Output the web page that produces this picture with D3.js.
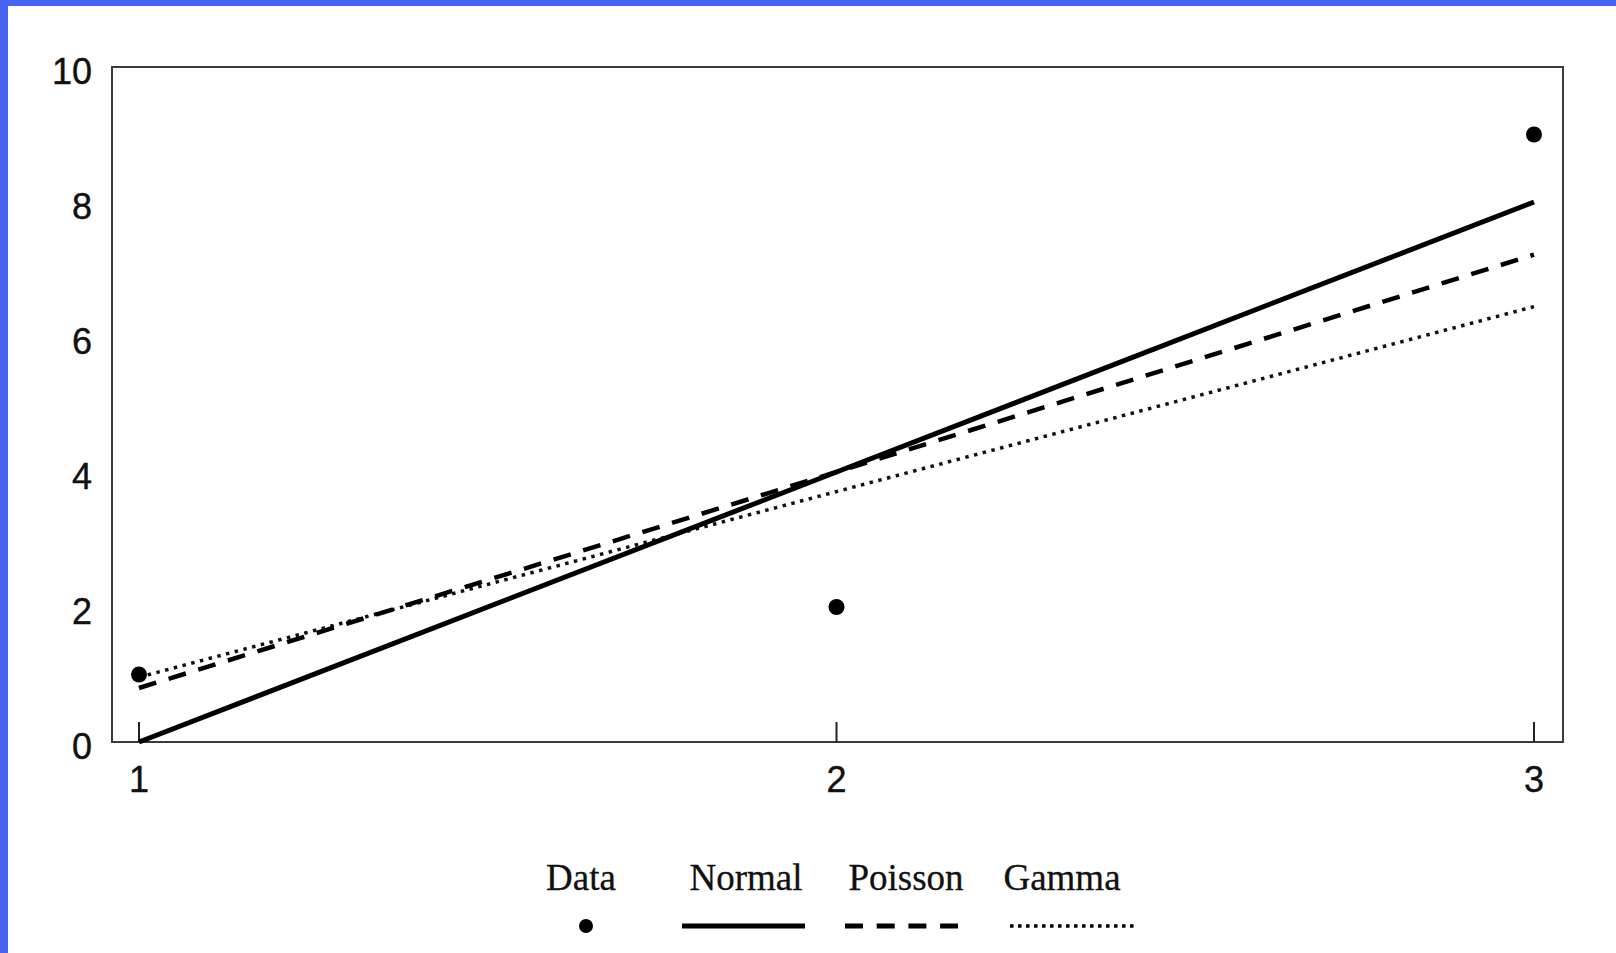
<!DOCTYPE html>
<html>
<head>
<meta charset="utf-8">
<script src="https://cdn.jsdelivr.net/npm/d3@7"></script>
<style>
  html, body { margin: 0; padding: 0; background: #4763ef; }
  svg { display: block; }
</style>
</head>
<body>
<div id="chart"></div>
<script>
// data
const xValues = [1, 2, 3];
const dataValues = [1, 2, 9];
const normalFit = [0, 4, 8];
const poissonFit = [0.8, 4.0, 7.22];
const gammaFit = [0.96, 3.71, 6.45];
const yTicks = [0, 2, 4, 6, 8, 10];
const xTicks = [1, 2, 3];
const legendLabels = ["Data", "Normal", "Poisson", "Gamma"];

const width = 1616, height = 953;

const svg = d3.select("#chart").append("svg")
  .attr("width", width)
  .attr("height", height);

// white page inside the blue edge
svg.append("rect")
  .attr("x", 8).attr("y", 6)
  .attr("width", width - 8).attr("height", height - 6)
  .attr("fill", "#fff");

// scales
const x = d3.scaleLinear().domain([1, 3]).range([139, 1534]);
const y = d3.scaleLinear().domain([0, 10]).range([742, 67]);

const frame = { left: 112, right: 1563, top: 67, bottom: 742 };

// plot frame
svg.append("rect")
  .attr("x", frame.left).attr("y", frame.top)
  .attr("width", frame.right - frame.left)
  .attr("height", frame.bottom - frame.top)
  .attr("fill", "none")
  .attr("stroke", "#3a3a3a")
  .attr("stroke-width", 2);

// x ticks pointing up inside the frame
svg.selectAll(".xtick")
  .data(xTicks)
  .enter().append("line")
  .attr("x1", d => x(d)).attr("x2", d => x(d))
  .attr("y1", frame.bottom).attr("y2", frame.bottom - 20)
  .attr("stroke", "#222").attr("stroke-width", 2);

const tickFont = "'Liberation Sans', Arial, sans-serif";

svg.selectAll(".xlabel")
  .data(xTicks)
  .enter().append("text")
  .attr("x", d => x(d))
  .attr("y", 792)
  .attr("text-anchor", "middle")
  .attr("font-family", tickFont)
  .attr("font-size", 36)
  .attr("fill", "#111")
  .attr("stroke", "#111").attr("stroke-width", 0.4)
  .text(d => d);

svg.selectAll(".ylabel")
  .data(yTicks)
  .enter().append("text")
  .attr("x", 92)
  .attr("y", d => y(d) + 17)
  .attr("text-anchor", "end")
  .attr("font-family", tickFont)
  .attr("font-size", 36)
  .attr("fill", "#111")
  .attr("stroke", "#111").attr("stroke-width", 0.4)
  .text(d => d);

// fitted lines
const line = d3.line()
  .x((d, i) => x(xValues[i]))
  .y(d => y(d));

svg.append("path")
  .datum(gammaFit)
  .attr("d", line)
  .attr("fill", "none")
  .attr("stroke", "#111")
  .attr("stroke-width", 3.5)
  .attr("stroke-dasharray", "3.5,5.5");

svg.append("path")
  .datum(poissonFit)
  .attr("d", line)
  .attr("fill", "none")
  .attr("stroke", "#000")
  .attr("stroke-width", 4.5)
  .attr("stroke-dasharray", "18,13");

svg.append("path")
  .datum(normalFit)
  .attr("d", line)
  .attr("fill", "none")
  .attr("stroke", "#000")
  .attr("stroke-width", 5);

// data points
svg.selectAll(".pt")
  .data(dataValues)
  .enter().append("circle")
  .attr("cx", (d, i) => x(xValues[i]))
  .attr("cy", d => y(d))
  .attr("r", 8)
  .attr("fill", "#000");

// legend
const legendCenters = [581, 746, 906, 1062];
const legendY = 890, markY = 926;

svg.selectAll(".legtext")
  .data(legendLabels)
  .enter().append("text")
  .attr("x", (d, i) => legendCenters[i])
  .attr("y", legendY)
  .attr("text-anchor", "middle")
  .attr("font-family", "'Liberation Serif', 'Times New Roman', serif")
  .attr("font-size", 37)
  .attr("fill", "#111")
  .attr("stroke", "#111").attr("stroke-width", 0.3)
  .text(d => d);

svg.append("circle")
  .attr("cx", 586).attr("cy", markY).attr("r", 7).attr("fill", "#000");

svg.append("line")
  .attr("x1", 682).attr("x2", 805).attr("y1", markY).attr("y2", markY)
  .attr("stroke", "#000").attr("stroke-width", 5);

svg.append("line")
  .attr("x1", 845).attr("x2", 958).attr("y1", markY).attr("y2", markY)
  .attr("stroke", "#000").attr("stroke-width", 5)
  .attr("stroke-dasharray", "18,13.7");

svg.append("line")
  .attr("x1", 1010).attr("x2", 1135).attr("y1", markY).attr("y2", markY)
  .attr("stroke", "#000").attr("stroke-width", 3.5)
  .attr("stroke-dasharray", "3.5,4.5");
</script>
</body>
</html>
